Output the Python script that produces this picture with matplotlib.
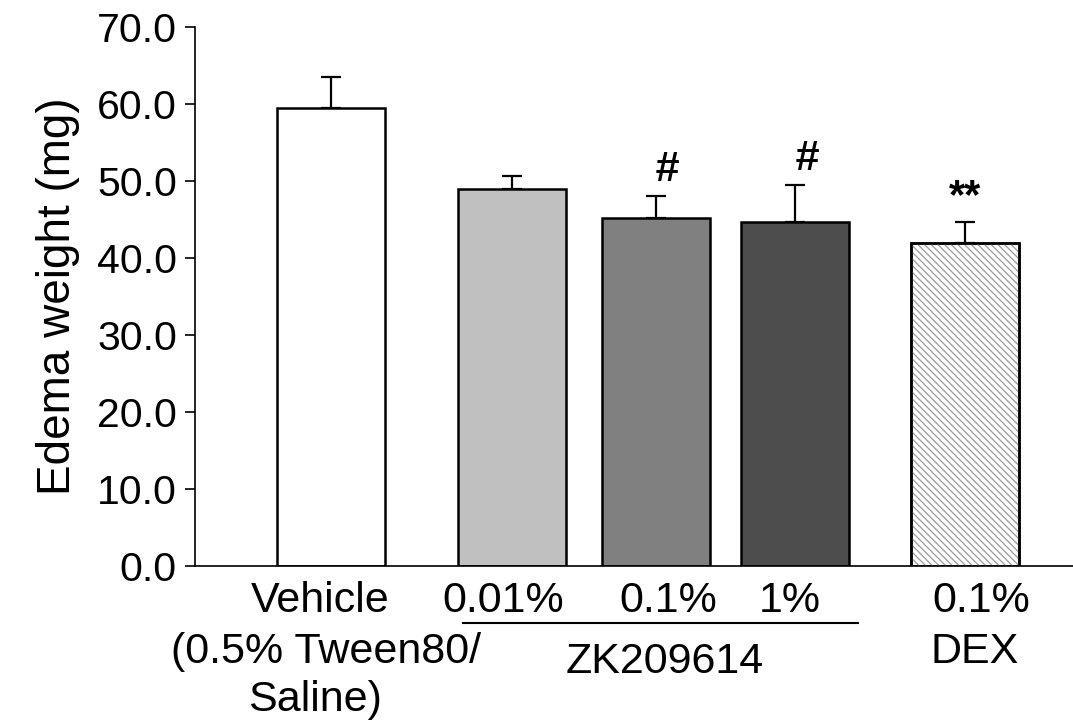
import matplotlib
matplotlib.use("Agg")
import matplotlib.pyplot as plt

plt.rcParams['font.family'] = ['Liberation Sans', 'DejaVu Sans']
plt.rcParams['hatch.linewidth'] = 0.9

# data
groups = ['Vehicle', '0.01%', '0.1%', '1%', 'DEX 0.1%']
means = [59.5, 49.0, 45.2, 44.7, 41.9]
errs = [4.0, 1.6, 2.9, 4.8, 2.8]
marks = ['', '', '#', '#', '**']
colors = ['white', '#c0c0c0', '#808080', '#4d4d4d', 'white']
hatches = [None, None, None, None, '\\\\\\\\\\']
yticks = [0, 10, 20, 30, 40, 50, 60, 70]

# layout: bar centres in bar-width units
pos = [1.26, 2.94, 4.27, 5.56, 7.13]

fig = plt.figure(figsize=(10.73, 7.24), dpi=100)
ax = fig.add_axes([0.1817, 0.2182, 0.8183, 0.7445])

for x, m, e, c, h in zip(pos, means, errs, colors, hatches):
    ax.bar(x, m, width=1.0, color=c, edgecolor='black', linewidth=1.8,
           zorder=2)
    if h:
        # grey hatch lines, black outline on top
        ax.bar(x, m, width=1.0, color='none', edgecolor='#9a9a9a',
               linewidth=0, hatch=h, zorder=3)
        ax.bar(x, m, width=1.0, color='none', edgecolor='black',
               linewidth=1.8, zorder=4)
    ax.errorbar(x, m, yerr=[[0], [e]], fmt='none', ecolor='black',
                elinewidth=1.6, capsize=7, capthick=1.6, zorder=1)

for x, m, e, s in zip(pos, means, errs, marks):
    if s == '#':
        ax.text(x + 0.1, m + e + 0.7, s, ha='center', va='bottom', fontsize=31,
                fontweight='bold', fontstyle='italic')
    elif s:
        ax.text(x, m + e + 0.6, s, ha='center', va='bottom', fontsize=30,
                fontweight='bold')

ax.set_xlim(0, 8.13)
ax.set_ylim(0, 70)
ax.set_yticks(yticks)
ax.set_yticklabels(['%.1f' % v for v in yticks], fontsize=29.5)
ax.set_xticks([])
ax.tick_params(axis='y', direction='out', length=7, width=1.2, pad=6)
ax.spines['top'].set_visible(False)
ax.spines['right'].set_visible(False)
ax.spines['left'].set_linewidth(1.2)
ax.spines['bottom'].set_linewidth(1.2)
ax.set_ylabel('Edema weight (mg)', fontsize=33, labelpad=12)

fs = 31
ax.text(1.16, -4.6, 'Vehicle', ha='center', va='center', fontsize=fs, clip_on=False)
ax.text(1.21, -11.2, '(0.5% Tween80/', ha='center', va='center', fontsize=fs, clip_on=False)
ax.text(1.11, -17.4, 'Saline)', ha='center', va='center', fontsize=fs, clip_on=False)
ax.text(2.85, -4.6, '0.01%', ha='center', va='center', fontsize=fs, clip_on=False)
ax.text(4.38, -4.6, '0.1%', ha='center', va='center', fontsize=fs, clip_on=False)
ax.text(5.51, -4.6, '1%', ha='center', va='center', fontsize=fs, clip_on=False)
ax.text(7.28, -4.6, '0.1%', ha='center', va='center', fontsize=fs, clip_on=False)
ax.text(4.35, -12.5, 'ZK209614', ha='center', va='center', fontsize=fs, clip_on=False)
ax.text(7.22, -11.2, 'DEX', ha='center', va='center', fontsize=fs, clip_on=False)
ax.plot([2.48, 6.14], [-7.4, -7.4], color='black', linewidth=1.5, clip_on=False)

fig.savefig('out.png', dpi=100)
